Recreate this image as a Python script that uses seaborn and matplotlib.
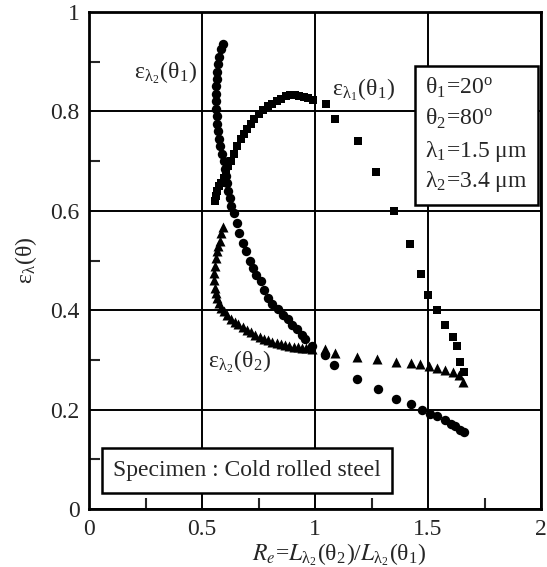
import matplotlib
matplotlib.use('Agg')
import matplotlib.pyplot as plt
import matplotlib.patches as patches
import seaborn as sns
from matplotlib.ticker import MultipleLocator, FormatStrFormatter

# ε_λ1(θ1)  (squares)
sq_x = [0.555, 0.56, 0.565, 0.575, 0.585, 0.595, 0.605, 0.615, 0.627, 0.64, 0.655, 0.67,
        0.685, 0.70, 0.715, 0.73, 0.75, 0.77, 0.79, 0.81, 0.83, 0.85, 0.87, 0.89, 0.91,
        0.93, 0.95, 0.97, 0.99, 1.05, 1.09, 1.19, 1.27, 1.35, 1.42, 1.47, 1.50, 1.54,
        1.575, 1.61, 1.63, 1.64, 1.66]
sq_y = [0.62, 0.63, 0.64, 0.65, 0.655, 0.665, 0.675, 0.69, 0.70, 0.715, 0.73, 0.745,
        0.755, 0.765, 0.775, 0.785, 0.795, 0.803, 0.81, 0.815, 0.82, 0.825, 0.83, 0.832,
        0.832, 0.831, 0.829, 0.826, 0.823, 0.815, 0.785, 0.74, 0.678, 0.60, 0.534, 0.473,
        0.43, 0.40, 0.37, 0.347, 0.328, 0.296, 0.276]

# ε_λ2(θ1)  (circles)
ci_x = [0.594, 0.585, 0.575, 0.57, 0.567, 0.565, 0.563, 0.562, 0.562, 0.563, 0.565, 0.567,
        0.57, 0.575, 0.58, 0.587, 0.595, 0.60, 0.605, 0.61, 0.615, 0.622, 0.63, 0.642,
        0.653, 0.664, 0.68, 0.694, 0.71, 0.724, 0.74, 0.761, 0.775, 0.791, 0.81, 0.836,
        0.86, 0.881, 0.90, 0.918, 0.94, 0.955, 0.985, 1.045, 1.085, 1.187, 1.277, 1.357,
        1.426, 1.474, 1.51, 1.539, 1.576, 1.60, 1.62, 1.64, 1.66]
ci_y = [0.935, 0.925, 0.91, 0.895, 0.88, 0.865, 0.85, 0.835, 0.82, 0.805, 0.79, 0.775,
        0.76, 0.745, 0.73, 0.715, 0.70, 0.685, 0.67, 0.655, 0.64, 0.625, 0.61, 0.595,
        0.575, 0.555, 0.535, 0.519, 0.50, 0.485, 0.47, 0.458, 0.44, 0.424, 0.413, 0.403,
        0.39, 0.383, 0.37, 0.362, 0.35, 0.342, 0.328, 0.311, 0.289, 0.261, 0.242, 0.221,
        0.212, 0.199, 0.191, 0.187, 0.18, 0.172, 0.167, 0.16, 0.155]

# ε_λ2(θ2)  (triangles)
tr_x = [0.594, 0.585, 0.578, 0.572, 0.567, 0.56, 0.555, 0.552, 0.553, 0.556, 0.56, 0.567,
        0.575, 0.585, 0.598, 0.612, 0.63, 0.645, 0.66, 0.68, 0.70, 0.716, 0.735, 0.755,
        0.775, 0.791, 0.81, 0.83, 0.85, 0.866, 0.885, 0.905, 0.925, 0.94, 0.96, 0.985,
        1.044, 1.087, 1.187, 1.274, 1.357, 1.423, 1.466, 1.503, 1.539, 1.576, 1.612,
        1.635, 1.655]
tr_y = [0.567, 0.555, 0.54, 0.53, 0.519, 0.505, 0.49, 0.475, 0.46, 0.445, 0.435, 0.425,
        0.415, 0.405, 0.398, 0.39, 0.382, 0.377, 0.372, 0.366, 0.36, 0.356, 0.35, 0.347,
        0.343, 0.34, 0.337, 0.334, 0.332, 0.331, 0.329, 0.327, 0.326, 0.325, 0.324, 0.322,
        0.322, 0.314, 0.306, 0.302, 0.296, 0.294, 0.291, 0.287, 0.284, 0.279, 0.276,
        0.27, 0.255]

params = [r'θ$_\mathregular{1}$=20$^\mathregular{o}$', r'θ$_\mathregular{2}$=80$^\mathregular{o}$',
          r'λ$_\mathregular{1}$=1.5 μm', r'λ$_\mathregular{2}$=3.4 μm']
param_y = [0.847, 0.785, 0.720, 0.658]

sns.set_style('ticks')
plt.rcParams['font.family'] = ['Liberation Serif', 'DejaVu Serif']
plt.rcParams['mathtext.fontset'] = 'stix'

fig = plt.figure(figsize=(5.47, 5.67), dpi=100)
ax = fig.add_axes([0.163, 0.102, 0.826, 0.877])

sns.scatterplot(x=sq_x, y=sq_y, marker='s', s=38, color='black', edgecolor='black', linewidth=0, ax=ax, zorder=3)
sns.scatterplot(x=ci_x, y=ci_y, marker='o', s=46, color='black', edgecolor='black', linewidth=0, ax=ax, zorder=3)
sns.scatterplot(x=tr_x, y=tr_y, marker='^', s=52, color='black', edgecolor='black', linewidth=0, ax=ax, zorder=3)

ax.set_xlim(0, 2)
ax.set_ylim(0, 1)
ax.xaxis.set_major_locator(MultipleLocator(0.5))
ax.yaxis.set_major_locator(MultipleLocator(0.2))
ax.xaxis.set_minor_locator(MultipleLocator(0.25))
ax.yaxis.set_minor_locator(MultipleLocator(0.1))
ax.xaxis.set_major_formatter(FormatStrFormatter('%g'))
ax.yaxis.set_major_formatter(FormatStrFormatter('%g'))
ax.grid(True, which='major', color='black', lw=1.4)
ax.tick_params(which='major', length=0, labelsize=17, pad=7)
ax.tick_params(which='minor', direction='in', length=8, width=1.5)
for sp in ax.spines.values():
    sp.set_linewidth(2)
    sp.set_color('black')

fs = 17
ax.text(0.48, 0.877, r'ε$_{\mathregular{λ_2}}$(θ$_\mathregular{1}$)', fontsize=fs, ha='right', va='center')
ax.text(1.075, 0.843, r'ε$_{\mathregular{λ_1}}$(θ$_\mathregular{1}$)', fontsize=fs, ha='left', va='center')
ax.text(0.527, 0.296, r'ε$_{\mathregular{λ_2}}$(θ$_\mathregular{2}$)', fontsize=fs, ha='left', va='center')

# parameter box
ax.add_patch(patches.Rectangle((1.443, 0.612), 0.544, 0.279, fc='white', ec='black', lw=1.8, zorder=4))
for txt, yy in zip(params, param_y):
    ax.text(1.487, yy, txt, fontsize=fs, ha='left', va='center', zorder=5)

# specimen box
ax.add_patch(patches.Rectangle((0.058, 0.032), 1.282, 0.091, fc='white', ec='black', lw=1.8, zorder=4))
ax.text(0.106, 0.078, 'Specimen : Cold rolled steel', fontsize=fs, ha='left', va='center', zorder=5)

ax.set_xlabel(r'$R_e$=$L_{\mathregular{λ_2}}$(θ$_\mathregular{2}$)/$L_{\mathregular{λ_2}}$(θ$_\mathregular{1}$)', fontsize=fs)
ax.xaxis.set_label_coords(0.553, -0.064)
ax.set_ylabel(r'ε$_\mathregular{λ}$(θ)', fontsize=fs)
ax.yaxis.set_label_coords(-0.11, 0.5)

fig.savefig('out.png', dpi=100)
